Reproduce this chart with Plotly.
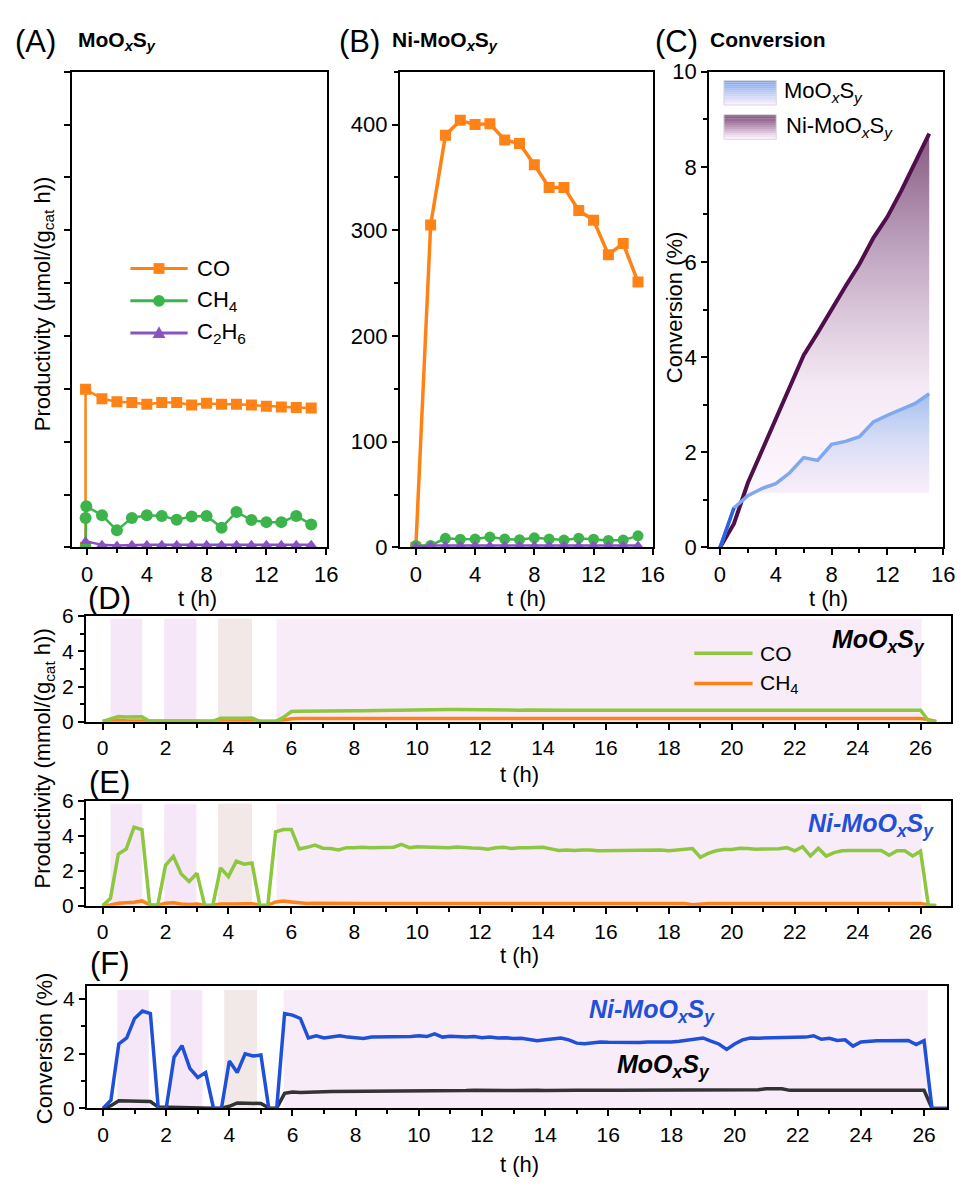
import plotly.graph_objects as go

W, H = 969, 1189
FONT = "Liberation Sans, Arial, sans-serif"

# ---------------- data ----------------
# Panel A (MoOxSy productivity, umol/(g_cat h))
A_CO_t = [-0.1, -0.1, 1, 2, 3, 4, 5, 6, 7, 8, 9, 10, 11, 12, 13, 14, 15]
A_CO = [0, 149.6, 140.8, 137.9, 137.2, 135.5, 137.2, 137.2, 134.7, 136.5, 135.5, 135.5, 134.7, 133.7, 133.0, 132.3, 131.9]
A_CH4_t = [-0.1, -0.1, -0.05, 1, 2, 3, 4, 5, 6, 7, 8, 9, 10, 11, 12, 13, 14, 15]
A_CH4 = [0, 28, 39, 30.5, 16.2, 28, 30.5, 29.9, 26.2, 29.3, 29.9, 18.7, 33.6, 25.9, 24, 24, 29.9, 21.8]
A_C2H6_t = [-0.1, 1, 2, 3, 4, 5, 6, 7, 8, 9, 10, 11, 12, 13, 14, 15]
A_C2H6 = [6, 2.5, 2, 2.5, 2.5, 2.5, 2.5, 2.5, 2.5, 2.5, 2.5, 2.5, 2.5, 2.5, 2.5, 2.5]

# Panel B (Ni-MoOxSy productivity)
B_t = [0, 1, 2, 3, 4, 5, 6, 7, 8, 9, 10, 11, 12, 13, 14, 15]
B_CO = [0, 305, 390, 404, 400, 400.7, 385.5, 382, 362, 340.6, 340.6, 318.7, 309.5, 277, 287.5, 251]
B_CH4 = [2, 2, 8.7, 7.8, 8, 9.9, 8, 7.4, 9.2, 8, 7, 8.8, 7.8, 6.7, 7, 11]
B_C2H6 = [1, 2, 2, 2, 2, 2, 2, 2, 2, 2, 2, 2, 2, 2, 2, 2]

# Panel C (conversion, %)
C_t = [0, 1, 2, 3, 4, 5, 6, 7, 8, 9, 10, 11, 12, 13, 14, 15]
C_Mo = [0, 0.83, 1.09, 1.24, 1.34, 1.57, 1.89, 1.83, 2.17, 2.23, 2.33, 2.64, 2.78, 2.91, 3.03, 3.23]
C_Ni = [0, 0.5, 1.36, 2.03, 2.7, 3.33, 4.04, 4.51, 5.02, 5.49, 5.96, 6.51, 6.95, 7.5, 8.1, 8.7]
C_BASE = 1.15

# Panels D-F, sampled every 0.25 h
T_STEP = 0.25
D_CO = [0.02, 0.15, 0.30, 0.27, 0.27, 0.28, 0.02, 0.02, 0.06, 0.06,
        0.05, 0.05, 0.04, 0.02, 0.02, 0.20, 0.18, 0.20, 0.20, 0.21,
        0.02, 0.02, 0.03, 0.25, 0.58, 0.60, 0.61, 0.61, 0.62, 0.61,
        0.62, 0.63, 0.63, 0.63, 0.64, 0.65, 0.65, 0.64, 0.66, 0.67,
        0.69, 0.68, 0.68, 0.69, 0.70, 0.70, 0.69, 0.70, 0.71, 0.69,
        0.68, 0.65, 0.66, 0.66, 0.67, 0.66, 0.66, 0.66, 0.65, 0.66,
        0.66, 0.66, 0.66, 0.67, 0.66, 0.66, 0.66, 0.66, 0.67, 0.66,
        0.66, 0.66, 0.66, 0.67, 0.66, 0.66, 0.66, 0.65, 0.66, 0.66,
        0.66, 0.67, 0.66, 0.66, 0.67, 0.66, 0.66, 0.66, 0.66, 0.66,
        0.66, 0.66, 0.67, 0.66, 0.66, 0.66, 0.66, 0.67, 0.66, 0.66,
        0.66, 0.66, 0.66, 0.67, 0.66, 0.06, 0.0]
D_CH4 = [0.02, 0.05, 0.08, 0.06, 0.06, 0.06, 0.03, 0.03, 0.04, 0.04,
         0.03, 0.03, 0.03, 0.02, 0.02, 0.05, 0.05, 0.05, 0.05, 0.05,
         0.02, 0.02, 0.03, 0.10, 0.17, 0.18, 0.18, 0.18, 0.18, 0.19,
         0.19, 0.19, 0.19, 0.19, 0.19, 0.19, 0.20, 0.19, 0.19, 0.19,
         0.19, 0.19, 0.19, 0.19, 0.19, 0.19, 0.19, 0.19, 0.19, 0.19,
         0.19, 0.19, 0.19, 0.19, 0.19, 0.19, 0.19, 0.19, 0.19, 0.19,
         0.19, 0.19, 0.19, 0.19, 0.19, 0.19, 0.19, 0.19, 0.19, 0.19,
         0.19, 0.19, 0.19, 0.19, 0.19, 0.19, 0.19, 0.19, 0.19, 0.19,
         0.19, 0.19, 0.19, 0.19, 0.20, 0.21, 0.22, 0.20, 0.19, 0.19,
         0.19, 0.19, 0.19, 0.19, 0.19, 0.19, 0.19, 0.19, 0.19, 0.19,
         0.19, 0.19, 0.19, 0.19, 0.18, 0.12, 0.02]
E_CO = [0.0, 0.43, 2.97, 3.25, 4.50, 4.37, 0.0, 0.0, 2.32, 2.83,
        1.82, 1.39, 1.86, 0.0, 0.0, 2.17, 1.67, 2.55, 2.38, 2.45,
        0.0, 0.0, 4.24, 4.37, 4.37, 3.25, 3.35, 3.48, 3.30, 3.28,
        3.20, 3.33, 3.32, 3.36, 3.33, 3.35, 3.35, 3.36, 3.52, 3.33,
        3.38, 3.36, 3.33, 3.35, 3.33, 3.37, 3.32, 3.31, 3.30, 3.24,
        3.32, 3.35, 3.28, 3.33, 3.32, 3.36, 3.35, 3.26, 3.17, 3.20,
        3.17, 3.19, 3.20, 3.16, 3.17, 3.16, 3.20, 3.20, 3.22, 3.22,
        3.22, 3.20, 3.15, 3.20, 3.20, 3.28, 2.78, 3.00, 3.15, 3.22,
        3.22, 3.30, 3.28, 3.24, 3.26, 3.26, 3.27, 3.33, 3.15, 3.38,
        2.85, 3.30, 2.85, 3.05, 3.15, 3.17, 3.17, 3.17, 3.16, 3.17,
        2.90, 3.15, 3.15, 2.85, 3.13, 0.0, 0.0]
E_CH4 = [0.02, 0.05, 0.15, 0.18, 0.20, 0.28, 0.05, 0.04, 0.15, 0.18,
         0.10, 0.08, 0.10, 0.03, 0.03, 0.10, 0.08, 0.10, 0.12, 0.12,
         0.03, 0.03, 0.22, 0.27, 0.22, 0.15, 0.13, 0.14, 0.13, 0.13,
         0.13, 0.13, 0.13, 0.13, 0.13, 0.13, 0.13, 0.13, 0.13, 0.13,
         0.13, 0.13, 0.13, 0.13, 0.13, 0.13, 0.13, 0.13, 0.13, 0.13,
         0.13, 0.13, 0.13, 0.13, 0.13, 0.13, 0.13, 0.13, 0.13, 0.13,
         0.13, 0.13, 0.13, 0.13, 0.13, 0.13, 0.13, 0.13, 0.13, 0.13,
         0.13, 0.13, 0.13, 0.13, 0.13, 0.06, 0.12, 0.13, 0.13, 0.13,
         0.13, 0.13, 0.13, 0.13, 0.13, 0.13, 0.13, 0.13, 0.13, 0.13,
         0.13, 0.13, 0.13, 0.13, 0.13, 0.13, 0.13, 0.13, 0.13, 0.13,
         0.13, 0.13, 0.13, 0.13, 0.13, 0.05, 0.02]
F_Ni = [0.0, 0.30, 2.35, 2.57, 3.28, 3.55, 3.46, 0.0, 0.0, 1.87,
        2.29, 1.46, 1.13, 1.31, 0.0, 0.0, 1.73, 1.31, 1.99, 1.91,
        1.95, 0.0, 0.0, 3.46, 3.40, 3.28, 2.57, 2.65, 2.57, 2.60,
        2.65, 2.60, 2.58, 2.55, 2.60, 2.60, 2.62, 2.60, 2.62, 2.62,
        2.65, 2.62, 2.72, 2.60, 2.63, 2.60, 2.60, 2.62, 2.58, 2.60,
        2.57, 2.58, 2.55, 2.56, 2.50, 2.47, 2.50, 2.55, 2.57, 2.50,
        2.38, 2.36, 2.40, 2.42, 2.41, 2.40, 2.42, 2.41, 2.40, 2.42,
        2.41, 2.43, 2.42, 2.45, 2.50, 2.55, 2.57, 2.45, 2.35, 2.15,
        2.35, 2.50, 2.57, 2.56, 2.57, 2.58, 2.56, 2.57, 2.58, 2.60,
        2.65, 2.52, 2.56, 2.48, 2.50, 2.27, 2.42, 2.45, 2.47, 2.47,
        2.48, 2.47, 2.48, 2.33, 2.47, 0.0, 0.0, 0.0]
F_Mo = [0.0, 0.10, 0.28, 0.27, 0.27, 0.27, 0.25, 0.05, 0.04, 0.05,
        0.05, 0.04, 0.03, 0.02, 0.01, 0.01, 0.08, 0.20, 0.20, 0.20,
        0.18, 0.02, 0.01, 0.55, 0.60, 0.58, 0.60, 0.60, 0.61, 0.62,
        0.62, 0.62, 0.63, 0.63, 0.64, 0.64, 0.64, 0.65, 0.64, 0.64,
        0.65, 0.65, 0.65, 0.64, 0.65, 0.65, 0.65, 0.66, 0.65, 0.66,
        0.66, 0.65, 0.65, 0.66, 0.66, 0.66, 0.65, 0.66, 0.66, 0.66,
        0.66, 0.66, 0.65, 0.66, 0.66, 0.66, 0.66, 0.66, 0.66, 0.66,
        0.66, 0.66, 0.66, 0.66, 0.66, 0.66, 0.66, 0.66, 0.66, 0.66,
        0.66, 0.67, 0.67, 0.68, 0.72, 0.72, 0.72, 0.66, 0.66, 0.66,
        0.66, 0.66, 0.66, 0.66, 0.66, 0.66, 0.66, 0.66, 0.66, 0.66,
        0.66, 0.66, 0.66, 0.66, 0.66, 0.0, 0.0, 0.0]

# shaded operating windows (h)
D_BANDS = [(0.25, 1.26), (1.96, 2.98), (3.67, 4.75), (5.53, 26.03)]
E_BANDS = [(0.25, 1.26), (1.96, 2.98), (3.67, 4.75), (5.53, 26.03)]
F_BANDS = [(0.45, 1.45), (2.14, 3.15), (3.84, 4.88), (5.72, 26.12)]
BAND_COLORS = ["#f5e7f8", "#f5e7f8", "#f2e8e8", "#f9ecf9"]

# ---------------- helpers ----------------
def xd(a, b):
    return [a / W, b / W]

def yd(top, bottom):
    return [1 - bottom / H, 1 - top / H]

def px(x):
    return x / W

def py(y):
    return 1 - y / H

def tgrid(vals):
    return [i * T_STEP for i in range(len(vals))]

ORANGE = "#ff8216"
GREEN = "#3cb44b"
PURPLE = "#8a52c2"
LGREEN = "#8dc63f"
BLUE = "#1f50d8"

fig = go.Figure()

mk = lambda sym, size: dict(symbol=sym, size=size, line=dict(width=0))

# A
fig.add_trace(go.Scatter(x=A_CO_t, y=A_CO, mode="lines+markers", line=dict(color=ORANGE, width=2.5),
                         marker=dict(color=ORANGE, **mk("square", 11)), xaxis="x", yaxis="y"))
fig.add_trace(go.Scatter(x=A_CH4_t, y=A_CH4, mode="lines+markers", line=dict(color=GREEN, width=2.5),
                         marker=dict(color=GREEN, **mk("circle", 12)), xaxis="x", yaxis="y"))
fig.add_trace(go.Scatter(x=A_C2H6_t, y=A_C2H6, mode="lines+markers", line=dict(color=PURPLE, width=2.5),
                         marker=dict(color=PURPLE, **mk("triangle-up", 10)), xaxis="x", yaxis="y"))
# B
fig.add_trace(go.Scatter(x=B_t, y=B_CO, mode="lines+markers", line=dict(color=ORANGE, width=3.5),
                         marker=dict(color=ORANGE, **mk("square", 11)), xaxis="x2", yaxis="y2"))
fig.add_trace(go.Scatter(x=B_t, y=B_CH4, mode="lines+markers", line=dict(color=GREEN, width=2.5),
                         marker=dict(color=GREEN, **mk("circle", 11)), xaxis="x2", yaxis="y2"))
fig.add_trace(go.Scatter(x=B_t, y=B_C2H6, mode="lines+markers", line=dict(color=PURPLE, width=2.5),
                         marker=dict(color=PURPLE, **mk("triangle-up", 10)), xaxis="x2", yaxis="y2"))

# C fills
k0 = 2
ni_x = C_t[k0:] + C_t[k0:][::-1]
ni_y = C_Ni[k0:] + [C_BASE] * len(C_t[k0:])
mo_x = C_t[k0:] + C_t[k0:][::-1]
mo_y = C_Mo[k0:] + [C_BASE] * len(C_t[k0:])
fig.add_trace(go.Scatter(x=ni_x, y=ni_y, mode="none", fill="toself",
                         fillgradient=dict(type="vertical",
                                           colorscale=[[0, "rgba(252,238,252,0.5)"], [0.3, "rgba(240,225,240,0.75)"],
                                                       [0.65, "rgba(185,155,185,0.85)"], [1, "rgba(120,70,115,0.9)"]]),
                         xaxis="x3", yaxis="y3", hoverinfo="skip"))
fig.add_trace(go.Scatter(x=mo_x, y=mo_y, mode="none", fill="toself",
                         fillgradient=dict(type="vertical",
                                           colorscale=[[0, "rgba(250,232,248,0.6)"], [0.5, "rgba(210,218,245,0.8)"],
                                                       [1, "rgba(160,190,240,0.95)"]]),
                         xaxis="x3", yaxis="y3", hoverinfo="skip"))
fig.add_trace(go.Scatter(x=C_t, y=C_Ni, mode="lines", line=dict(color="#4e0f4b", width=4), xaxis="x3", yaxis="y3"))
fig.add_trace(go.Scatter(x=C_t, y=C_Mo, mode="lines", line=dict(color="#80a8ee", width=3.5), xaxis="x3", yaxis="y3"))
fig.add_trace(go.Scatter(x=C_t[:2], y=C_Mo[:2], mode="lines", line=dict(color="#2a64e2", width=3.5), xaxis="x3", yaxis="y3"))

# D
fig.add_trace(go.Scatter(x=tgrid(D_CH4), y=D_CH4, mode="lines", line=dict(color=ORANGE, width=3.5), xaxis="x4", yaxis="y4"))
fig.add_trace(go.Scatter(x=tgrid(D_CO), y=D_CO, mode="lines", line=dict(color=LGREEN, width=3.5), xaxis="x4", yaxis="y4"))
# E
fig.add_trace(go.Scatter(x=tgrid(E_CH4), y=E_CH4, mode="lines", line=dict(color=ORANGE, width=3.5), xaxis="x5", yaxis="y5"))
fig.add_trace(go.Scatter(x=tgrid(E_CO), y=E_CO, mode="lines", line=dict(color=LGREEN, width=3.5), xaxis="x5", yaxis="y5"))
# F
fig.add_trace(go.Scatter(x=tgrid(F_Mo), y=F_Mo, mode="lines", line=dict(color="#333333", width=3.5), xaxis="x6", yaxis="y6"))
fig.add_trace(go.Scatter(x=tgrid(F_Ni), y=F_Ni, mode="lines", line=dict(color=BLUE, width=3.5), xaxis="x6", yaxis="y6"))

# ---------------- axes ----------------
def ax(domain, rng, dtick, minor, size, labels=True, anchor=None):
    d = dict(domain=domain, range=rng, dtick=dtick, tick0=0, showgrid=False, zeroline=False,
             showline=True, linecolor="black", linewidth=2, mirror=True,
             ticks="outside", ticklen=6, tickwidth=2, tickcolor="black",
             showticklabels=labels, tickfont=dict(family=FONT, size=size, color="black"),
             minor=dict(dtick=minor, tick0=0, ticks="outside", ticklen=4, tickwidth=1.5, tickcolor="black"))
    if anchor:
        d["anchor"] = anchor
    return d

lay = dict(width=W, height=H, margin=dict(l=0, r=0, t=0, b=0), paper_bgcolor="white",
           plot_bgcolor="rgba(0,0,0,0)", showlegend=False, font=dict(family=FONT, color="black"))

lay["xaxis"] = ax(xd(73, 331), [-1.0, 16.05], 4, 2, 22, anchor="y")
lay["yaxis"] = ax(yd(61, 547), [0, 450], 50, 50, 22, labels=False, anchor="x")
lay["xaxis2"] = ax(xd(405, 661), [-1.07, 16.0], 4, 2, 22, anchor="y2")
lay["yaxis2"] = ax(yd(61, 547), [0, 450], 100, 50, 22, anchor="x2")
lay["xaxis3"] = ax(xd(718, 955), [-0.78, 16.0], 4, 2, 22, anchor="y3")
lay["yaxis3"] = ax(yd(61, 547), [0, 10], 2, 1, 22, anchor="x3")
lay["xaxis4"] = ax(xd(87, 963), [-0.53, 26.97], 2, 1, 21, anchor="y4")
lay["yaxis4"] = ax(yd(617, 725), [0, 6], 2, 1, 21, anchor="x4")
lay["xaxis5"] = ax(xd(87, 963), [-0.53, 26.97], 2, 1, 21, anchor="y5")
lay["yaxis5"] = ax(yd(806, 913), [0, 6], 2, 1, 21, anchor="x5")
lay["xaxis6"] = ax(xd(88, 959), [-0.51, 26.73], 2, 1, 21, anchor="y6")
lay["yaxis6"] = ax(yd(995, 1120), [0, 4.46], 2, 1, 21, anchor="x6")
fig.update_layout(**lay)

# ---------------- shapes ----------------
shapes = []
for xa, ya, bands, top in [("x4", "y4", D_BANDS, 0.975), ("x5", "y5", E_BANDS, 0.975), ("x6", "y6", F_BANDS, 0.968)]:
    for (a, b), c in zip(bands, BAND_COLORS):
        shapes.append(dict(type="rect", xref=xa, yref=ya + " domain", x0=a, x1=b, y0=0, y1=top,
                           fillcolor=c, line=dict(width=0), layer="below"))

# legend A (manual)
LEG_A = [("CO", ORANGE, "square", 262), ("CH<sub>4</sub>", GREEN, "circle", 295), ("C<sub>2</sub>H<sub>6</sub>", PURPLE, "triangle", 328)]
annotations = []
for name, col, sym, yy in LEG_A:
    shapes.append(dict(type="line", xref="paper", yref="paper", x0=px(132), x1=px(190), y0=py(yy), y1=py(yy),
                       line=dict(color=col, width=3)))
    cx = 161
    if sym == "square":
        shapes.append(dict(type="rect", xref="paper", yref="paper", x0=px(cx - 5.5), x1=px(cx + 5.5),
                           y0=py(yy + 5.5), y1=py(yy - 5.5), fillcolor=col, line=dict(width=0)))
    elif sym == "circle":
        shapes.append(dict(type="circle", xref="paper", yref="paper", x0=px(cx - 6), x1=px(cx + 6),
                           y0=py(yy + 6), y1=py(yy - 6), fillcolor=col, line=dict(width=0)))
    else:
        path = "M {} {} L {} {} L {} {} Z".format(px(cx - 6.5), py(yy + 5), px(cx + 6.5), py(yy + 5), px(cx), py(yy - 7))
        shapes.append(dict(type="path", xref="paper", yref="paper", path=path, fillcolor=col, line=dict(width=0)))
    annotations.append(dict(text=name, x=px(197), y=py(yy), xref="paper", yref="paper", xanchor="left",
                            yanchor="middle", showarrow=False, font=dict(family=FONT, size=22, color="black")))

# legend D (manual)
for name, col, yy in [("CO", LGREEN, 655), ("CH<sub>4</sub>", ORANGE, 686)]:
    shapes.append(dict(type="line", xref="paper", yref="paper", x0=px(703), x1=px(762), y0=py(yy), y1=py(yy),
                       line=dict(color=col, width=3.5)))
    annotations.append(dict(text=name, x=px(767), y=py(yy), xref="paper", yref="paper", xanchor="left",
                            yanchor="middle", showarrow=False, font=dict(family=FONT, size=21, color="black")))

# legend C (gradient swatches built from thin strips)
def blend(c1, c2, f):
    return "rgb({},{},{})".format(*[int(round(a + (b - a) * f)) for a, b in zip(c1, c2)])

for (top, bot), ctop, cbot in [((70, 95), (125, 165, 240), (252, 240, 252)),
                               ((105, 130), (130, 78, 125), (252, 240, 252))]:
    n = 12
    for i in range(n):
        y0 = top + (bot - top) * i / n
        y1 = top + (bot - top) * (i + 1) / n
        shapes.append(dict(type="rect", xref="paper", yref="paper", x0=px(733), x1=px(786), y0=py(y1), y1=py(y0),
                           fillcolor=blend(ctop, cbot, i / (n - 1)), line=dict(width=0)))
    shapes.append(dict(type="rect", xref="paper", yref="paper", x0=px(733), x1=px(786), y0=py(bot), y1=py(top),
                       fillcolor="rgba(0,0,0,0)", line=dict(color="#d8d8de", width=1)))
annotations.append(dict(text="MoO<sub><i>x</i></sub>S<sub><i>y</i></sub>", x=px(792), y=py(82), xref="paper",
                        yref="paper", xanchor="left", yanchor="middle", showarrow=False,
                        font=dict(family=FONT, size=22, color="black")))
annotations.append(dict(text="Ni-MoO<sub><i>x</i></sub>S<sub><i>y</i></sub>", x=px(794), y=py(117), xref="paper",
                        yref="paper", xanchor="left", yanchor="middle", showarrow=False,
                        font=dict(family=FONT, size=22, color="black")))

# ---------------- text ----------------
def ann(text, x, y, size, anchor="center", angle=0, color="black"):
    annotations.append(dict(text=text, x=px(x), y=py(y), xref="paper", yref="paper", xanchor=anchor,
                            yanchor="middle", showarrow=False, textangle=angle,
                            font=dict(family=FONT, size=size, color=color)))

ann("(A)", 36, 30, 31)
ann("<b>MoO<sub><i>x</i></sub>S<sub><i>y</i></sub></b>", 77, 30, 21, anchor="left")
ann("(B)", 364, 30, 31)
ann("<b>Ni-MoO<sub><i>x</i></sub>S<sub><i>y</i></sub></b>", 395, 30, 21, anchor="left")
ann("(C)", 685, 30, 31)
ann("<b>Conversion</b>", 717, 28, 21, anchor="left")
ann("(D)", 111, 599, 31)
ann("(E)", 111, 787, 31)
ann("(F)", 111, 972, 31)

ann("Productivity (μmol/(g<sub>cat</sub> h))", 44, 298, 22, angle=-90)
ann("Conversion (%)", 683, 302, 22, angle=-90)
ann("Productivity (mmol/(g<sub>cat</sub> h))", 45, 762, 22, angle=-90)
ann("Conversion (%)", 45, 1058, 22, angle=-90)

ann("t (h)", 200, 599, 22)
ann("t (h)", 533, 599, 22)
ann("t (h)", 839, 599, 22)
ann("t (h)", 526, 779, 22)
ann("t (h)", 526, 964, 22)
ann("t (h)", 526, 1177, 22)

ann("<b><i>MoO<sub>x</sub>S<sub>y</sub></i></b>", 890, 643, 25)
ann("<b><i>Ni-MoO<sub>x</sub>S<sub>y</sub></i></b>", 882, 830, 25, color=BLUE)
ann("<b><i>Ni-MoO<sub>x</sub>S<sub>y</sub></i></b>", 660, 1020, 25, color=BLUE)
ann("<b><i>MoO<sub>x</sub>S<sub>y</sub></i></b>", 672, 1077, 25)

fig.update_layout(shapes=shapes, annotations=annotations)
fig.write_html("out.html", config={"displayModeBar": False},
               post_script="document.body.style.margin='0px';document.body.style.overflow='hidden';")
